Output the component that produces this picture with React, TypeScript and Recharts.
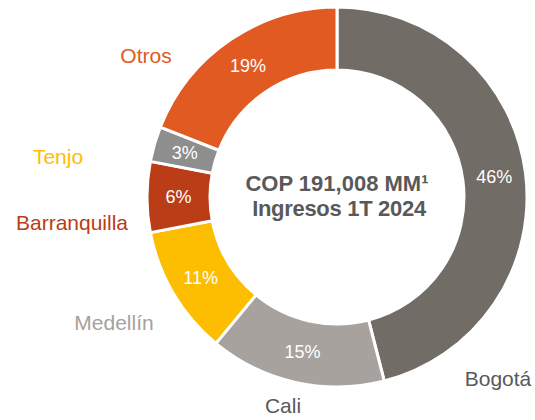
import { PieChart, Pie, Cell } from "recharts";

const regions = ["Bogotá", "Cali", "Medellín", "Barranquilla", "Tenjo", "Otros"];
const shares = [46, 15, 11, 6, 3, 19];

const sliceColors = ["#716c66", "#a7a29d", "#fdbd00", "#ba3d17", "#8e8e8e", "#e05a22"];
const nameColors = ["#595959", "#595959", "#a6a19c", "#ba3d17", "#fdbd00", "#e05a22"];

// where each outside name sits, relative to the ring centre
const nameOffsets: Record<string, [number, number]> = {
  "Bogotá": [161, 181],
  Cali: [-54, 208],
  "Medellín": [-223, 125],
  Barranquilla: [-265, 25],
  Tenjo: [-279, -41],
  Otros: [-191, -142],
};

const data = regions.map((name, i) => ({ name, value: shares[i] }));

const FONT = "'Liberation Sans', Arial, sans-serif";
const RAD = Math.PI / 180;

function renderLabel(props: any) {
  const { cx, cy, midAngle, innerRadius, outerRadius, index } = props;
  const row = data[index];
  const r = (innerRadius + outerRadius) / 2;
  const x = cx + r * Math.cos(-midAngle * RAD);
  const y = cy + r * Math.sin(-midAngle * RAD);
  const [dx, dy] = nameOffsets[row.name];
  return (
    <g>
      <text x={x} y={y} fill="#fff" fontSize={18} textAnchor="middle" dominantBaseline="central" fontFamily={FONT}>
        {`${row.value}%`}
      </text>
      <text x={cx + dx} y={cy + dy} fill={nameColors[index]} fontSize={21} textAnchor="middle" dominantBaseline="central" fontFamily={FONT}>
        {row.name}
      </text>
    </g>
  );
}

export default function App() {
  return (
    <div style={{ position: "absolute", left: 0, top: 0, width: 535, height: 420, background: "#fff" }}>
      <PieChart width={535} height={420} margin={{ top: 0, right: 0, bottom: 0, left: 0 }}>
        <Pie
          data={data}
          dataKey="value"
          cx={337}
          cy={197}
          innerRadius={127}
          outerRadius={190}
          startAngle={90}
          endAngle={-270}
          stroke="#fff"
          strokeWidth={3}
          label={renderLabel}
          labelLine={false}
          isAnimationActive={false}
        >
          {data.map((row, i) => (
            <Cell key={row.name} fill={sliceColors[i]} />
          ))}
        </Pie>
        <text x={337} y={183} textAnchor="middle" dominantBaseline="central" fontFamily={FONT} fontWeight="bold" fontSize={22} fill="#595959">
          COP 191,008 MM¹
        </text>
        <text x={339} y={208} textAnchor="middle" dominantBaseline="central" fontFamily={FONT} fontWeight="bold" fontSize={22} fill="#595959" letterSpacing={-0.3}>
          Ingresos 1T 2024
        </text>
      </PieChart>
    </div>
  );
}
